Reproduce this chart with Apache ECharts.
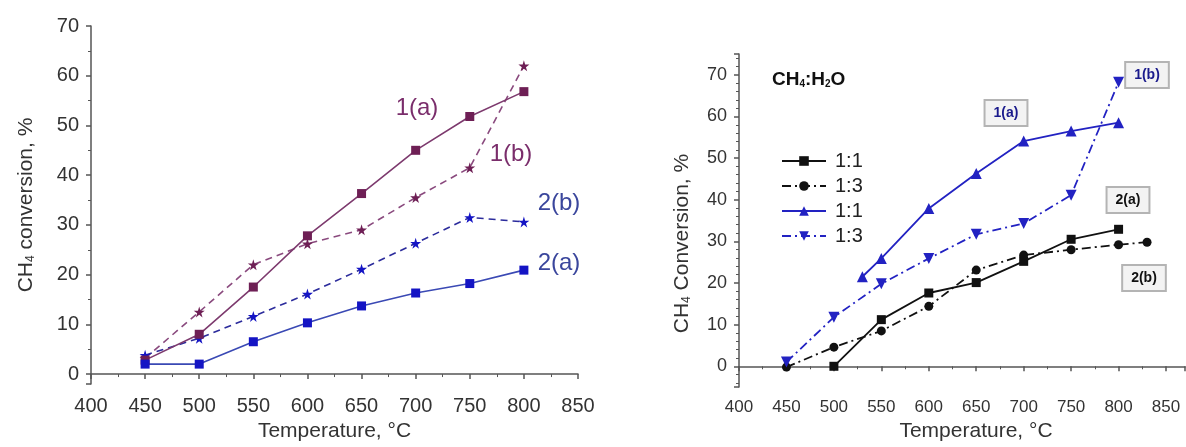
<!DOCTYPE html>
<html>
<head>
<meta charset="utf-8">
<script src="https://cdn.jsdelivr.net/npm/echarts@6/dist/echarts.min.js"></script>
<style>
html,body{margin:0;padding:0;background:#fff;}
#c{width:1186px;height:447px;}
</style>
</head>
<body>
<div id="c"></div>
<script>
// ---- Left panel data ----
const leftTemps = [450, 500, 550, 600, 650, 700, 750, 800];
const left1a = [2.8, 8.0, 17.5, 27.8, 36.3, 45.0, 51.8, 56.8];
const left1b = [3.2, 12.5, 22.0, 26.2, 29.0, 35.5, 41.5, 62.0];
const left2b = [3.8, 7.2, 11.6, 16.1, 21.1, 26.3, 31.5, 30.6];
const left2a = [2.0, 2.0, 6.5, 10.3, 13.7, 16.3, 18.2, 20.9];

// ---- Right panel data ----
const right2aTemps = [500, 550, 600, 650, 700, 750, 800];
const right2a = [0.0, 11.2, 17.6, 20.1, 25.2, 30.5, 32.9];
const right2bTemps = [450, 500, 550, 600, 650, 700, 750, 800, 830];
const right2b = [-0.2, 4.6, 8.5, 14.4, 23.1, 26.7, 28.0, 29.2, 29.8];
const right1aTemps = [530, 550, 600, 650, 700, 750, 800];
const right1a = [21.5, 25.9, 37.9, 46.3, 54.1, 56.5, 58.5];
const right1bTemps = [450, 500, 550, 600, 650, 700, 750, 800];
const right1b = [1.0, 11.8, 19.8, 25.9, 31.7, 34.3, 41.1, 68.2];

const legendNames = ['1:1', '1:3', '1:1 ', '1:3 '];
const xTicksLabel = 'Temperature, °C';

function zip(xs, ys) { return xs.map((x, i) => [x, ys[i]]); }

const FONT = 'Liberation Sans, Arial, sans-serif';
const STAR = 'path://M50,0 L61,35 L98,35 L68,57 L79,91 L50,70 L21,91 L32,57 L2,35 L39,35 Z';
const PURPLE = '#6e1f55';
const PURPLE_LINE = '#7d3a6e';
const BLUE = '#1414c4';
const BLUE_LINE = '#3a49b4';
const RBLUE = '#2222c2';
const BLACK = '#111111';

const axisLineStyle = { color: '#555', width: 1.5 };

const chart = echarts.init(document.getElementById('c'), null, { renderer: 'canvas' });

const option = {
  backgroundColor: '#fff',
  animation: false,
  textStyle: { fontFamily: FONT },
  grid: [
    { left: 91, right: 608, top: 26, bottom: 63, containLabel: false },
    { left: 739, right: 1, top: 54, bottom: 57, containLabel: false }
  ],
  xAxis: [
    {
      gridIndex: 0, type: 'value', min: 400, max: 850, interval: 50,
      name: xTicksLabel, nameLocation: 'middle', nameGap: 34,
      nameTextStyle: { fontSize: 21, color: '#333', fontFamily: FONT },
      axisLine: { lineStyle: axisLineStyle },
      axisTick: { show: true, length: 5, lineStyle: axisLineStyle },
      minorTick: { show: true, splitNumber: 2, length: 3, lineStyle: { color: '#555', width: 1 } },
      axisLabel: { fontSize: 20, color: '#333', margin: 12, fontFamily: FONT },
      splitLine: { show: false }
    },
    {
      gridIndex: 1, type: 'value', min: 400, max: 870, interval: 50,
      name: xTicksLabel, nameLocation: 'middle', nameGap: 28,
      nameTextStyle: { fontSize: 21, color: '#333', fontFamily: FONT, padding: [0, 0, 0, 28] },
      axisLine: { lineStyle: axisLineStyle },
      axisTick: { show: true, length: 5, lineStyle: axisLineStyle },
      minorTick: { show: true, splitNumber: 2, length: 3, lineStyle: { color: '#555', width: 1 } },
      axisLabel: { fontSize: 17, color: '#333', margin: 12, fontFamily: FONT, showMaxLabel: false },
      splitLine: { show: false }
    }
  ],
  yAxis: [
    {
      gridIndex: 0, type: 'value', min: -2, max: 70, splitNumber: 7,
      name: 'CH{sub|4} conversion, %', nameLocation: 'middle', nameGap: 54,
      nameTextStyle: { fontSize: 21, color: '#333', fontFamily: FONT,
        rich: { sub: { fontSize: 12, color: '#333', fontFamily: FONT, verticalAlign: 'bottom', padding: [10, 0, 0, 0] } } },
      axisLine: { show: true, lineStyle: axisLineStyle },
      axisTick: { show: true, length: 5, lineStyle: axisLineStyle },
      minorTick: { show: true, splitNumber: 2, length: 3, lineStyle: { color: '#555', width: 1 } },
      axisLabel: { fontSize: 20, color: '#333', margin: 12, fontFamily: FONT, showMinLabel: false },
      splitLine: { show: false }
    },
    {
      gridIndex: 1, type: 'value', min: -5, max: 75, splitNumber: 8,
      name: 'CH{sub|4} Conversion, %', nameLocation: 'middle', nameGap: 46,
      nameTextStyle: { fontSize: 21, color: '#333', fontFamily: FONT, padding: [0, 46, 0, 0],
        rich: { sub: { fontSize: 12, color: '#333', fontFamily: FONT, verticalAlign: 'bottom', padding: [10, 0, 0, 0] } } },
      axisLine: { show: true, lineStyle: axisLineStyle },
      axisTick: { show: true, length: 5, lineStyle: axisLineStyle },
      minorTick: { show: true, splitNumber: 5, length: 3, lineStyle: { color: '#555', width: 1 } },
      axisLabel: { fontSize: 18, color: '#333', margin: 12, fontFamily: FONT, showMinLabel: false, showMaxLabel: false },
      splitLine: { show: false }
    }
  ],
  legend: {
    data: legendNames,
    orient: 'vertical', left: 776, top: 146,
    itemWidth: 44, itemHeight: 12, itemGap: 5,
    textStyle: { fontSize: 20, color: '#222', fontFamily: FONT, padding: [0, 0, 0, 4] },
    formatter: n => n.trim(),
    selectedMode: false
  },
  series: [
    // left panel
    { type: 'line', xAxisIndex: 0, yAxisIndex: 0, data: zip(leftTemps, left1a),
      symbol: 'rect', symbolSize: 9, itemStyle: { color: PURPLE },
      lineStyle: { color: PURPLE_LINE, width: 1.6, type: 'solid' }, z: 3 },
    { type: 'line', xAxisIndex: 0, yAxisIndex: 0, data: zip(leftTemps, left1b),
      symbol: STAR, symbolSize: 11, itemStyle: { color: PURPLE },
      lineStyle: { color: '#8a4a7e', width: 1.6, type: [7, 5] }, z: 2 },
    { type: 'line', xAxisIndex: 0, yAxisIndex: 0, data: zip(leftTemps, left2b),
      symbol: STAR, symbolSize: 11, itemStyle: { color: BLUE },
      lineStyle: { color: '#2c2c9c', width: 1.6, type: [7, 5] }, z: 2 },
    { type: 'line', xAxisIndex: 0, yAxisIndex: 0, data: zip(leftTemps, left2a),
      symbol: 'rect', symbolSize: 9, itemStyle: { color: BLUE },
      lineStyle: { color: BLUE_LINE, width: 1.6, type: 'solid' }, z: 3 },
    // right panel
    { name: legendNames[0], type: 'line', xAxisIndex: 1, yAxisIndex: 1, data: zip(right2aTemps, right2a),
      symbol: 'rect', symbolSize: 9, itemStyle: { color: BLACK },
      lineStyle: { color: BLACK, width: 1.8, type: 'solid' } },
    { name: legendNames[1], type: 'line', xAxisIndex: 1, yAxisIndex: 1, data: zip(right2bTemps, right2b),
      symbol: 'circle', symbolSize: 9, itemStyle: { color: BLACK },
      lineStyle: { color: BLACK, width: 1.8, type: [9, 4, 2, 4] } },
    { name: legendNames[2], type: 'line', xAxisIndex: 1, yAxisIndex: 1, data: zip(right1aTemps, right1a),
      symbol: 'triangle', symbolSize: 11, itemStyle: { color: RBLUE },
      lineStyle: { color: RBLUE, width: 1.8, type: 'solid' } },
    { name: legendNames[3], type: 'line', xAxisIndex: 1, yAxisIndex: 1, data: zip(right1bTemps, right1b),
      symbol: 'triangle', symbolRotate: 180, symbolSize: 11, itemStyle: { color: RBLUE },
      lineStyle: { color: RBLUE, width: 1.8, type: [9, 4, 2, 4] } }
  ],
  graphic: [
    // left panel curve labels
    { type: 'text', x: 417, y: 108, style: { text: '1(a)', fill: '#7a2d6b', font: '24px ' + FONT, align: 'center', verticalAlign: 'middle' } },
    { type: 'text', x: 511, y: 154, style: { text: '1(b)', fill: '#7a2d6b', font: '24px ' + FONT, align: 'center', verticalAlign: 'middle' } },
    { type: 'text', x: 559, y: 203, style: { text: '2(b)', fill: '#3a469c', font: '24px ' + FONT, align: 'center', verticalAlign: 'middle' } },
    { type: 'text', x: 559, y: 263, style: { text: '2(a)', fill: '#3a469c', font: '24px ' + FONT, align: 'center', verticalAlign: 'middle' } },
    // right panel legend title
    { type: 'text', x: 772, y: 80, style: {
        text: 'CH{s|4}:H{s|2}O', fill: '#111', font: 'bold 19px ' + FONT, verticalAlign: 'middle',
        rich: { s: { font: 'bold 10px ' + FONT, fill: '#111', verticalAlign: 'bottom', padding: [9, 0, 0, 0] } } } },
    // right panel boxed labels
    { type: 'text', x: 1006, y: 113, style: { text: '1(a)', fill: '#1a1a8c', font: 'bold 14px ' + FONT, align: 'center', verticalAlign: 'middle',
        backgroundColor: '#f3f3f3', borderColor: '#b4b4b4', borderWidth: 2, padding: [5, 8] } },
    { type: 'text', x: 1147, y: 75, style: { text: '1(b)', fill: '#1a1a8c', font: 'bold 14px ' + FONT, align: 'center', verticalAlign: 'middle',
        backgroundColor: '#f3f3f3', borderColor: '#b4b4b4', borderWidth: 2, padding: [5, 8] } },
    { type: 'text', x: 1128, y: 200, style: { text: '2(a)', fill: '#111', font: 'bold 14px ' + FONT, align: 'center', verticalAlign: 'middle',
        backgroundColor: '#f3f3f3', borderColor: '#b4b4b4', borderWidth: 2, padding: [5, 8] } },
    { type: 'text', x: 1144, y: 278, style: { text: '2(b)', fill: '#111', font: 'bold 14px ' + FONT, align: 'center', verticalAlign: 'middle',
        backgroundColor: '#f3f3f3', borderColor: '#b4b4b4', borderWidth: 2, padding: [5, 8] } }
  ]
};

chart.setOption(option);
</script>
</body>
</html>
